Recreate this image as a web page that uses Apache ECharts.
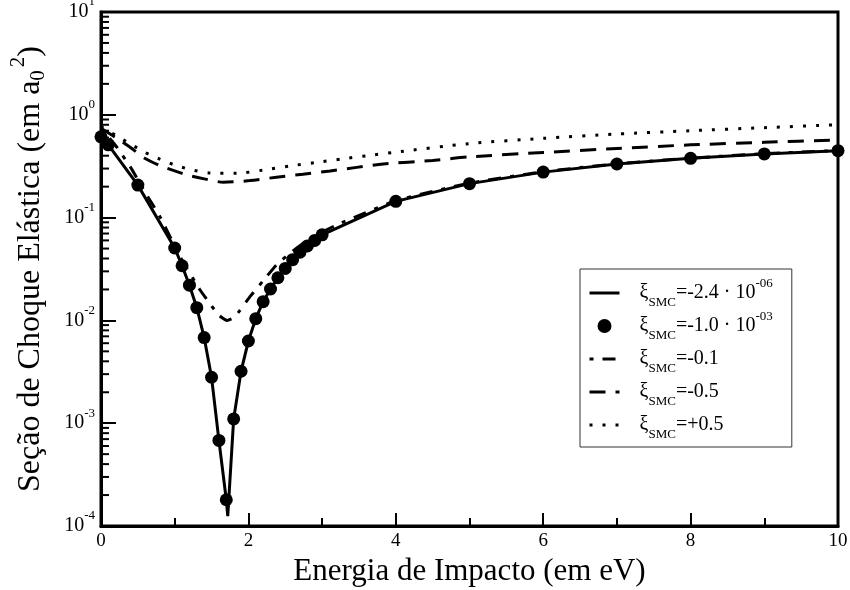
<!DOCTYPE html>
<html><head><meta charset="utf-8">
<script src="https://cdn.jsdelivr.net/npm/echarts@6/dist/echarts.min.js"></script>
<style>html,body{margin:0;padding:0;background:#fff}#c{width:850px;height:590px}</style>
</head><body><div id="c"></div>
<script>
// ---- data ----
const xSolid = [0,0.1,0.5,1.0,1.1,1.2,1.3,1.4,1.5,1.6,1.7,1.72,1.8,1.9,2.0,2.1,2.2,2.3,2.4,2.5,2.6,2.7,2.8,2.9,3.0,4,5,6,7,8,9,10];
const ySolid = [0.61,0.51,0.207,0.0506,0.034,0.022,0.0133,0.0068,0.0028,0.00068,0.00018,0.000125,0.0011,0.0032,0.0063,0.0104,0.0152,0.0202,0.026,0.032,0.039,0.046,0.053,0.060,0.068,0.144,0.214,0.277,0.332,0.377,0.416,0.448];

const xDots = [0,0.1,0.5,1.0,1.1,1.2,1.3,1.4,1.5,1.6,1.7,1.8,1.9,2.0,2.1,2.2,2.3,2.4,2.5,2.6,2.7,2.8,2.9,3.0,4,5,6,7,8,9,10];
const yDots = [0.61,0.51,0.207,0.0506,0.034,0.022,0.0133,0.0068,0.0028,0.00068,0.00018,0.0011,0.0032,0.0063,0.0104,0.0152,0.0202,0.026,0.032,0.039,0.046,0.053,0.060,0.068,0.144,0.214,0.277,0.332,0.377,0.416,0.448];

const xDashDot = [0,0.2,0.4,0.6,0.8,1.07,1.34,1.48,1.6,1.71,1.8,1.88,2.03,2.2,2.38,2.59,2.84,3.2,4,5,6,7,8,9,10];
const yDashDot = [0.74,0.50,0.31,0.175,0.102,0.042,0.020,0.0145,0.0112,0.0100,0.0106,0.0124,0.0173,0.0243,0.0346,0.0466,0.063,0.085,0.146,0.216,0.279,0.334,0.379,0.418,0.450];

const xDashed = [0,0.2,0.4,0.6,0.8,1.0,1.2,1.4,1.66,2.02,2.38,2.74,3.11,3.47,3.83,4.5,5,6,7,8,9,10];
const yDashed = [0.74,0.60,0.48,0.375,0.32,0.285,0.256,0.238,0.221,0.229,0.247,0.264,0.284,0.308,0.332,0.36,0.39,0.43,0.47,0.51,0.54,0.57];

const xDotted = [0,0.2,0.4,0.6,0.8,1.0,1.2,1.48,1.85,2.2,2.56,2.9,3.27,3.61,3.96,5,6,7,8,9,10];
const yDotted = [0.77,0.63,0.52,0.43,0.37,0.325,0.295,0.272,0.270,0.290,0.318,0.342,0.372,0.40,0.43,0.525,0.59,0.65,0.70,0.75,0.80];

const seriesNames = ['xi1','xi2','xi3','xi4','xi5'];
// legend text: value part and exponent part
const legendValue = ['=-2.4 · 10','=-1.0 · 10','=-0.1','=-0.5','=+0.5'];
const legendExp   = ['-06','-03','','',''];

const xTicks = [0,2,4,6,8,10];
const yMinorMultipliers = [2,3,4,5,6,7,8,9];
const yDecades = [-4,-3,-2,-1,0];

// ---- chart ----
const FONT = '"Liberation Serif","Times New Roman",serif';
const pair = (xs, ys) => xs.map((x, i) => [x, ys[i]]);
const minorVals = [];
yDecades.forEach(d => yMinorMultipliers.forEach(m => minorVals.push([0, m * Math.pow(10, d)])));

const chart = echarts.init(document.getElementById('c'), null, {renderer: 'canvas'});
const legendFmt = {};
seriesNames.forEach((n, i) => {
  legendFmt[n] = '{m|ξ}{s|SMC}{m|' + legendValue[i] + '}' + (legendExp[i] ? '{p|' + legendExp[i] + '}' : '');
});
const hiddenSym = {color: 'rgba(0,0,0,0)', borderWidth: 0, opacity: 0};
const legendData = seriesNames.map((n, i) => i === 1 ? {name: n} : {name: n, itemStyle: hiddenSym});

const option = {
  backgroundColor: '#fff',
  animation: false,
  grid: {left: 101, right: 12, top: 12, bottom: 64, show: true, borderColor: '#000', borderWidth: 3, containLabel: false, outerBoundsMode: 'none'},
  xAxis: {
    type: 'value', min: xTicks[0], max: xTicks[xTicks.length - 1], interval: 2,
    axisLine: {show: true, lineStyle: {color: '#000', width: 3}},
    axisTick: {show: true, inside: true, length: 13, lineStyle: {color: '#000', width: 2}},
    minorTick: {show: true, splitNumber: 2, length: 8, lineStyle: {color: '#000', width: 2}},
    splitLine: {show: false},
    axisLabel: {color: '#000', fontFamily: FONT, fontSize: 19, margin: 6},
    name: 'Energia de Impacto (em eV)', nameLocation: 'middle', nameGap: 27,
    nameTextStyle: {color: '#000', fontFamily: FONT, fontSize: 31}
  },
  yAxis: {
    type: 'log', logBase: 10, min: 1e-4, max: 10,
    axisLine: {show: true, lineStyle: {color: '#000', width: 3}},
    axisTick: {show: true, inside: true, length: 15, lineStyle: {color: '#000', width: 2}},
    splitLine: {show: false},
    axisLabel: {
      margin: 6,
      formatter: v => '{b|10}{e|' + Math.round(Math.log10(v)) + '}',
      rich: {
        b: {color: '#000', fontFamily: FONT, fontSize: 20, lineHeight: 20, verticalAlign: 'middle'},
        e: {color: '#000', fontFamily: FONT, fontSize: 13, lineHeight: 13, padding: [0, 0, 20, 0], verticalAlign: 'middle'}
      }
    },
    name: '{t|Seção de Choque Elástica (em a}{sb|0}{sp|2}{t|)}',
    nameLocation: 'middle', nameGap: 42, nameRotate: 90,
    nameTextStyle: {
      rich: {
        t: {color: '#000', fontFamily: FONT, fontSize: 32, lineHeight: 32, verticalAlign: 'middle'},
        sb: {color: '#000', fontFamily: FONT, fontSize: 21, lineHeight: 21, padding: [16, 0, 0, 0], verticalAlign: 'middle'},
        sp: {color: '#000', fontFamily: FONT, fontSize: 21, lineHeight: 21, padding: [0, 0, 24, 3], verticalAlign: 'middle'}
      }
    }
  },
  legend: {
    orient: 'vertical', left: 580, top: 269,
    padding: [8, 19, 6, 8], itemGap: 1, itemWidth: 30, itemHeight: 14,
    borderColor: '#333', borderWidth: 1, backgroundColor: '#fff',
    lineStyle: {width: 3},
    data: legendData,
    formatter: n => legendFmt[n],
    textStyle: {
      padding: [0, 0, 0, 15],
      rich: {
        m: {color: '#000', fontFamily: FONT, fontSize: 20, lineHeight: 20, verticalAlign: 'middle'},
        s: {color: '#000', fontFamily: FONT, fontSize: 13, lineHeight: 13, padding: [19, 0, 0, 0], verticalAlign: 'middle'},
        p: {color: '#000', fontFamily: FONT, fontSize: 13, lineHeight: 13, padding: [0, 0, 18, 0], verticalAlign: 'middle'}
      }
    }
  },
  series: [
    {name: seriesNames[0], type: 'line', data: pair(xSolid, ySolid), symbol: 'none',
     lineStyle: {color: '#000', width: 3, join: 'miter'}, itemStyle: {color: '#000'}, z: 3},
    {name: seriesNames[1], type: 'scatter', data: pair(xDots, yDots), symbol: 'circle', symbolSize: 13,
     itemStyle: {color: '#000', opacity: 1}, z: 4},
    {name: seriesNames[2], type: 'line', data: pair(xDashDot, yDashDot), symbol: 'none', smooth: 0.15,
     lineStyle: {color: '#000', width: 3, type: [4, 9, 13, 9], cap: 'butt'}, itemStyle: {color: '#000'}, z: 2},
    {name: seriesNames[3], type: 'line', data: pair(xDashed, yDashed), symbol: 'none', smooth: 0.25,
     lineStyle: {color: '#000', width: 3, type: [16, 10], cap: 'butt'}, itemStyle: {color: '#000'}, z: 2},
    {name: seriesNames[4], type: 'line', data: pair(xDotted, yDotted), symbol: 'none', smooth: 0.25,
     lineStyle: {color: '#000', width: 3, type: [3, 10], cap: 'butt'}, itemStyle: {color: '#000'}, z: 2},
    {type: 'custom', silent: true, data: minorVals, encode: {x: 0, y: 1}, z: 5, clip: false,
     renderItem: (params, api) => {
       const p = api.coord([api.value(0), api.value(1)]);
       return {type: 'line', shape: {x1: p[0], y1: p[1], x2: p[0] + 8, y2: p[1]},
               style: {stroke: '#000', lineWidth: 2}};
     }}
  ]
};
chart.setOption(option);
</script>
</body></html>
